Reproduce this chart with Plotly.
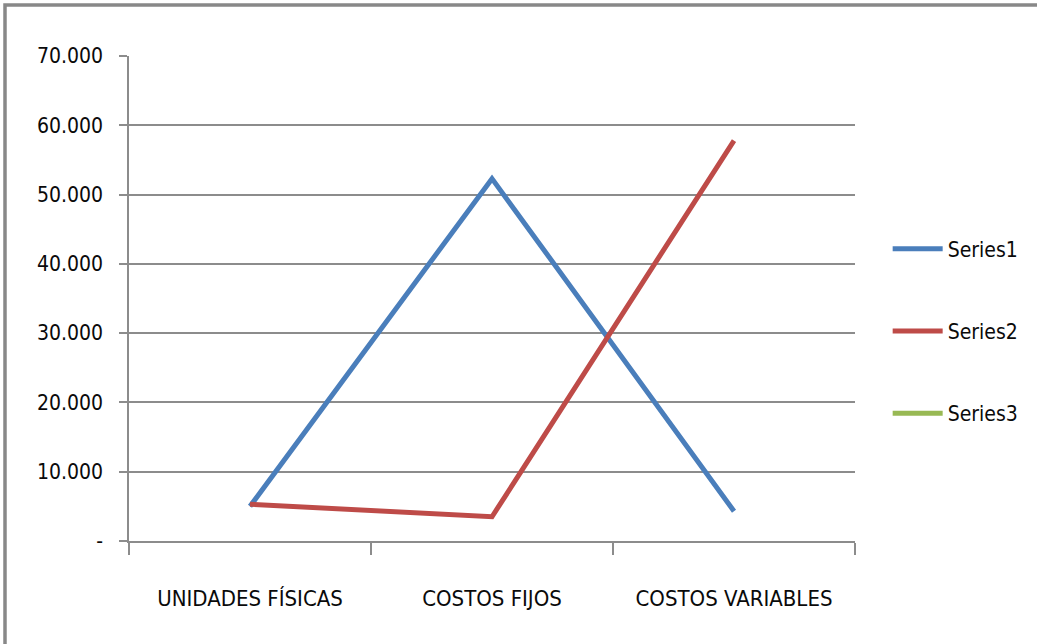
import plotly.graph_objects as go

categories = ["UNIDADES FÍSICAS", "COSTOS FIJOS", "COSTOS VARIABLES"]
series1 = [5000, 52300, 4300]
series2 = [5300, 3500, 57800]
series3 = [None, None, None]

y_ticks = [0, 10000, 20000, 30000, 40000, 50000, 60000, 70000]
y_tick_labels = ["-", "10.000", "20.000", "30.000", "40.000", "50.000", "60.000", "70.000"]

FONT = "DejaVu Sans Condensed, Liberation Sans Narrow, sans-serif"

fig = go.Figure()
for name, values, color, grp in [
    ("Series1", series1, "#4A7EBB", "a"),
    ("Series2", series2, "#BE4B48", "b"),
    ("Series3", series3, "#98B954", "c"),
]:
    fig.add_trace(go.Scatter(
        x=categories, y=values, name=name, mode="lines",
        line=dict(color=color, width=5), legendgroup=grp,
    ))

# outer chart frame
fig.add_shape(type="rect", xref="paper", yref="paper",
              x0=-0.1708, x1=1.40, y0=-0.30, y1=1.105,
              line=dict(color="#888888", width=3.5), fillcolor="rgba(0,0,0,0)",
              layer="below")

fig.update_layout(
    width=1037, height=644,
    margin=dict(l=129, r=182, t=56, b=103, autoexpand=False),
    paper_bgcolor="white", plot_bgcolor="white",
    font=dict(family=FONT, size=20, color="#0a0a0a"),
    showlegend=True,
    legend=dict(x=1.045, xanchor="left", y=0.433, yanchor="middle",
                tracegroupgap=52, itemwidth=50, font=dict(size=21),
                bgcolor="rgba(0,0,0,0)"),
)
fig.update_xaxes(
    type="category", range=[-0.5, 2.5], automargin=False, tickangle=0,
    showline=True, linecolor="#8C8C8C", linewidth=1.5,
    ticks="outside", tickson="boundaries", ticklen=12, tickcolor="#8C8C8C", tickwidth=1.5,
    showgrid=False, ticklabelstandoff=37, tickfont=dict(size=22),
)
fig.update_yaxes(
    range=[0, 70000], tickvals=y_ticks, ticktext=y_tick_labels, automargin=False,
    showline=True, linecolor="#8C8C8C", linewidth=1.5,
    ticks="outside", ticklen=8, tickcolor="#8C8C8C", tickwidth=1.5,
    showgrid=True, gridcolor="#8C8C8C", gridwidth=1.5,
    zeroline=False, ticklabelstandoff=12, tickfont=dict(size=21),
)

fig.write_html("out.html")
